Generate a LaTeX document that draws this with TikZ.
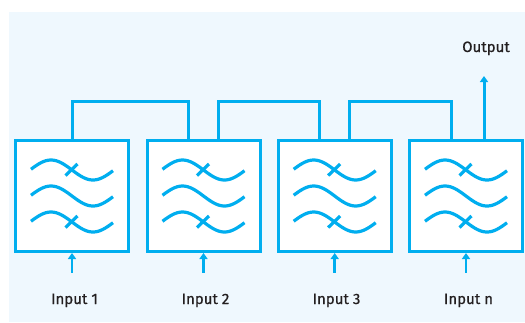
\documentclass[tikz,border=0pt]{standalone}
\usepackage{fontspec}
\setmainfont{Fira Sans}
\newfontfamily\lblfont{Fira Sans}[FakeBold=0.6]
\usetikzlibrary{arrows.meta}
\definecolor{cy}{RGB}{0,174,239}
\definecolor{bg}{RGB}{239,248,254}
\definecolor{tx}{RGB}{35,31,32}
\begin{document}
\begin{tikzpicture}[x=1pt,y=-1pt,
  fbox/.style={draw=cy,fill=white,line width=3pt,minimum width=113pt,minimum height=111pt,inner sep=0pt,outer sep=0pt},
  conn/.style={draw=cy,line width=3pt,line join=miter},
  inarrow/.style={draw=cy,line width=2.5pt,-{Triangle[width=8pt,length=6pt]}},
  lbl/.style={text=tx,font=\lblfont\fontsize{15}{18}\selectfont,inner sep=0pt,anchor=base},
  wave/.style={draw=cy,line width=3.2pt}
]
\fill[white] (0,0) rectangle (525,322);
\fill[bg] (9,12) rectangle (525,322);
\useasboundingbox (0,0) rectangle (525,322);

\node[fbox] (b1) at (72,196) {};
\node[fbox] (b2) at (203.5,196) {};
\node[fbox] (b3) at (334.7,196) {};
\node[fbox] (b4) at (466,196) {};

\foreach \b in {b1,b2,b3,b4} {
  \begin{scope}[shift={(\b.center)}]
    \foreach \dy in {-26,0,26}
      \draw[wave] plot[domain=-41:41,samples=40,smooth] (\x,{\dy-10*sin(4.285714*(\x+42))});
    \draw[wave] (-6.5,-20.5) -- (5.5,-32);
    \draw[wave] (-6.5,31.5) -- (5.5,20);
  \end{scope}
}

\draw[conn] (b1.north) -- ([yshift=39pt]b1.north) -| ([xshift=-15pt]b2.north);
\draw[conn] ([xshift=15pt]b2.north) -- ([xshift=15pt,yshift=39pt]b2.north) -| ([xshift=-15pt]b3.north);
\draw[conn] ([xshift=15pt]b3.north) -- ([xshift=15pt,yshift=39pt]b3.north) -| ([xshift=-15pt]b4.north);

\coordinate (otip) at ([xshift=18pt,yshift=64.5pt]b4.north);
\draw[inarrow,line width=3pt] ([xshift=18pt]b4.north) -- (otip);
\node[lbl] (out) at (486,52) {Output};

\foreach \i/\t/\lx in {1/1/74.5,2/2/205.5,3/3/336.5,4/n/468.5} {
  \coordinate (i\i) at ([yshift=-21pt]b\i.south);
  \draw[inarrow] (i\i) -- ([yshift=-1.5pt]b\i.south);
  \node[lbl] (l\i) at (\lx,304) {Input \t};
}
\end{tikzpicture}
\end{document}
